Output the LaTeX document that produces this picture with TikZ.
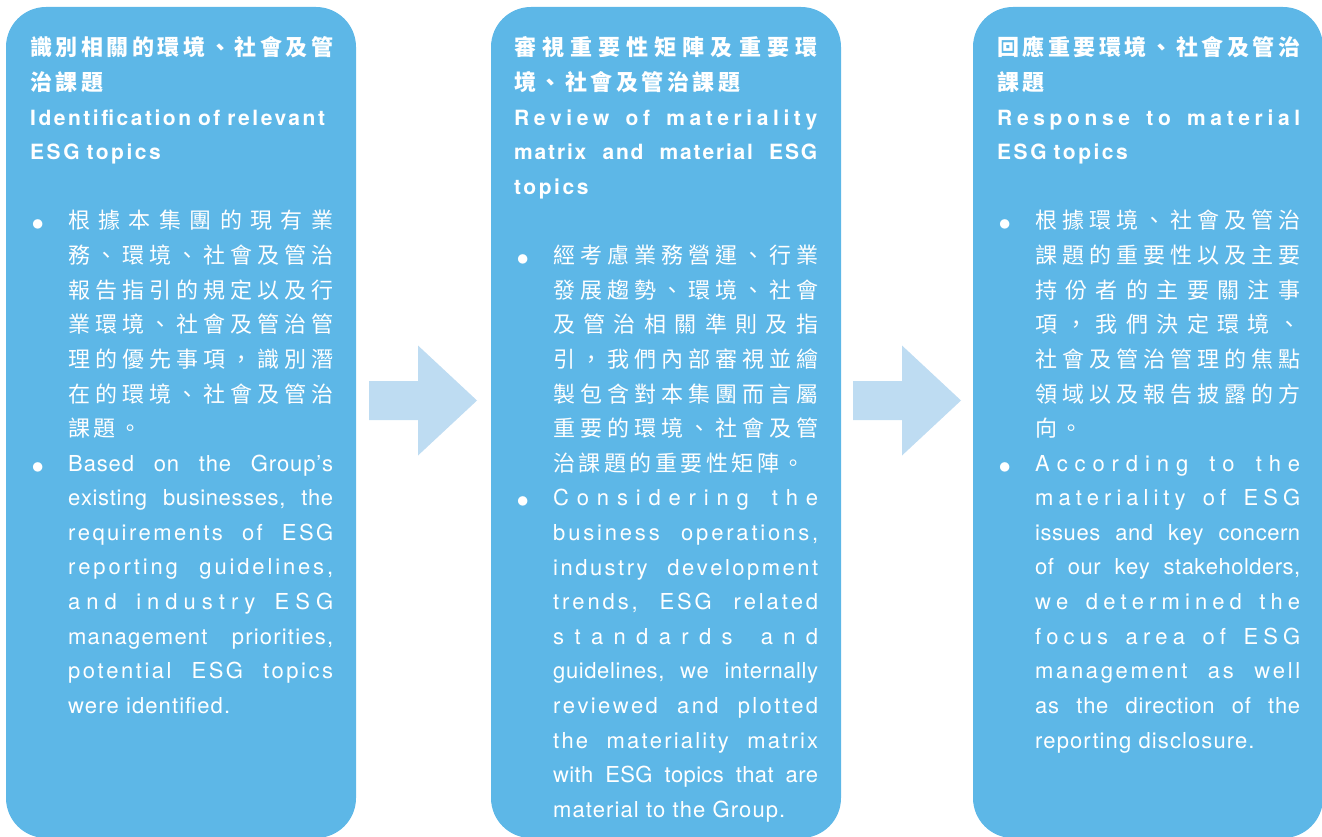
\documentclass[tikz,border=0pt]{standalone}
\usepackage{fontspec}
\setmainfont{TeX Gyre Heros}
\newfontfamily\latinbody{TeX Gyre Heros}[LetterSpace=5]
\newfontfamily\latinhead{TeX Gyre Heros}[LetterSpace=12]
\newfontfamily\cjk{Noto Sans CJK TC}[LetterSpace=16]
\usetikzlibrary{positioning}
\definecolor{stageblue}{HTML}{5DB7E7}
\definecolor{arrowblue}{HTML}{BEDCF2}

\newlength\headw \setlength\headw{303pt}
\newlength\bodyw \setlength\bodyw{265pt}
% fit one line to a width: letters stretch by 1, word gaps (~) by \wgap
\def\jtok#1{\ifx#1\relax\else\ifx#1~\unskip\ \hskip 0pt plus\wgap fil\relax\else#1\hskip 0pt plus 1fil\relax\fi\expandafter\jtok\fi}
\newcommand\fitln[3][12]{\def\wgap{#1}\makebox[#2][s]{\jtok#3\relax\unskip}}
\newcommand\spreadln{\fitln[2]}
\newcommand\mixln{\fitln[5]}
\newcommand\justln{\fitln[14]}
\newcommand\zh{\cjk\fontsize{22}{34.6}\selectfont}
\newcommand\zhl[1]{{\zh\fitln[1]{\bodyw}{#1}}}
\newcommand\zhh[1]{{\zh\bfseries\fitln[1]{\headw}{#1}}}
\newcommand\bul[1]{\leavevmode\hbox{\llap{\makebox[37pt][l]{\fontsize{38}{38}\selectfont\raisebox{-9pt}{\textbullet}}}#1}}

\begin{document}
\begin{tikzpicture}[x=1pt, y=-1pt,
  stage/.style={rectangle, fill=stageblue, rounded corners=40pt, minimum width=350pt, minimum height=831pt, inner sep=0pt},
  headtext/.style={anchor=base west, inner sep=0pt, text=white, text width=\headw, align=left, font=\latinhead\bfseries\fontsize{21}{34.6}\selectfont},
  bodytext/.style={anchor=base west, inner sep=0pt, text=white, text width=\bodyw, align=left, font=\latinbody\fontsize{22}{34.6}\selectfont},
  flowarrow/.pic={\fill[arrowblue] (0,-19.5) -- (49,-19.5) -- (49,-55) -- (108,0) -- (49,55) -- (49,19.5) -- (0,19.5) -- cycle;}
]
\useasboundingbox (0,0) rectangle (1322,837);

% stages
\node[stage] (s1) at (181,422.5) {};
\node[stage] (s2) at (666,422.5) {};
\node[stage] (s3) at (1148,422.5) {};

% arrows between stages
\pic (a1) at (369,400.5) {flowarrow};
\pic (a2) at (853,400.5) {flowarrow};

% stage 1
\node[headtext] (h1) at (30,56) {%
  \zhh{識別相關的環境、社會及管}\\
  {\zh\bfseries 治課題}\\
  Identification of relevant\\
  ESG topics};
\node[bodytext] (b1) at (68,229) {%
  \bul{\zhl{根據本集團的現有業}}\\
  \zhl{務、環境、社會及管治}\\
  \zhl{報告指引的規定以及行}\\
  \zhl{業環境、社會及管治管}\\
  \zhl{理的優先事項，識別潛}\\
  \zhl{在的環境、社會及管治}\\
  {\zh 課題。}\\
  \bul{\justln\bodyw{Based~on~the~Group’s}}\\
  \justln\bodyw{existing~businesses,~the}\\
  \mixln\bodyw{requirements~of~ESG}\\
  \mixln\bodyw{reporting~guidelines,}\\
  \spreadln\bodyw{and~industry~ESG}\\
  \justln\bodyw{management~priorities,}\\
  \mixln\bodyw{potential~ESG~topics}\\
  were identified.};

% stage 2
\node[headtext] (h2) at (514,56) {%
  \zhh{審視重要性矩陣及重要環}\\
  {\zh\bfseries 境、社會及管治課題}\\
  \spreadln\headw{Review~of~materiality}\\
  \mixln\headw{matrix~and~material~ESG}\\
  topics};
\node[bodytext] (b2) at (553,263.6) {%
  \bul{\zhl{經考慮業務營運、行業}}\\
  \zhl{發展趨勢、環境、社會}\\
  \zhl{及管治相關準則及指}\\
  \zhl{引，我們內部審視並繪}\\
  \zhl{製包含對本集團而言屬}\\
  \zhl{重要的環境、社會及管}\\
  {\zh 治課題的重要性矩陣。}\\
  \bul{\spreadln\bodyw{Considering~the}}\\
  \mixln\bodyw{business~operations,}\\
  \mixln\bodyw{industry~development}\\
  \mixln\bodyw{trends,~ESG~related}\\
  \spreadln\bodyw{standards~and}\\
  \justln\bodyw{guidelines,~we~internally}\\
  \mixln\bodyw{reviewed~and~plotted}\\
  \mixln\bodyw{the~materiality~matrix}\\
  \justln\bodyw{with~ESG~topics~that~are}\\
  material to the Group.};

% stage 3
\node[headtext] (h3) at (997,56) {%
  \zhh{回應重要環境、社會及管治}\\
  {\zh\bfseries 課題}\\
  \spreadln\headw{Response~to~material}\\
  ESG topics};
\node[bodytext] (b3) at (1035,229) {%
  \bul{\zhl{根據環境、社會及管治}}\\
  \zhl{課題的重要性以及主要}\\
  \zhl{持份者的主要關注事}\\
  \zhl{項，我們決定環境、}\\
  \zhl{社會及管治管理的焦點}\\
  \zhl{領域以及報告披露的方}\\
  {\zh 向。}\\
  \bul{\spreadln\bodyw{According~to~the}}\\
  \spreadln\bodyw{materiality~of~ESG}\\
  \justln\bodyw{issues~and~key~concern}\\
  \justln\bodyw{of~our~key~stakeholders,}\\
  \spreadln\bodyw{we~determined~the}\\
  \spreadln\bodyw{focus~area~of~ESG}\\
  \mixln\bodyw{management~as~well}\\
  \justln\bodyw{as~the~direction~of~the}\\
  reporting disclosure.};
\end{tikzpicture}
\end{document}
